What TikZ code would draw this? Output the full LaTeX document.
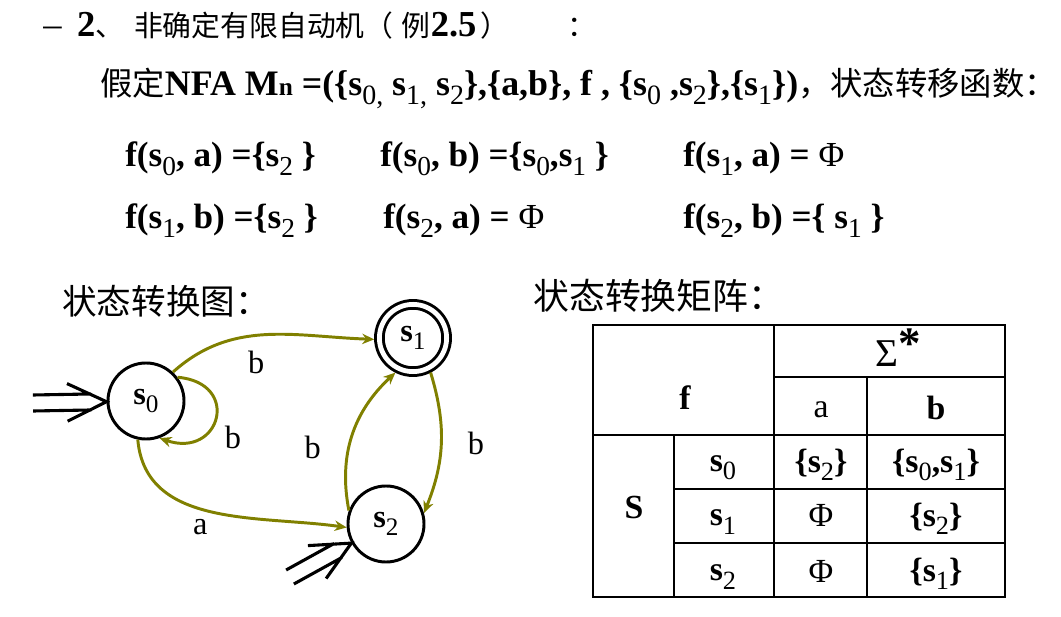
\documentclass[tikz,border=0pt]{standalone}
\usepackage{fontspec}
\setmainfont{Liberation Serif}
\newfontfamily\cjk{Noto Sans CJK SC}
\usepackage{xcolor}
\usepackage{graphicx}
\usepackage{tikz}
\usetikzlibrary{arrows.meta}
\usetikzlibrary{decorations.markings}
\definecolor{edgeolive}{RGB}{128,128,0}
\newcommand{\sub}[1]{\raisebox{-0.24em}{\scalebox{0.78}{\mdseries #1}}}
\tikzstyle{state}=[black, draw=black, line width=2.1pt, shape=circle, fill=white, minimum size=1.9cm, inner sep=0pt, font=\fontsize{23}{25}\selectfont\bfseries]
\tikzstyle{accstate}=[state, double, double distance=0.12cm, minimum size=1.68cm, outer sep=0.13cm]
\tikzstyle{trans}=[-{Stealth[length=0.3cm, width=0.26cm]}, line width=2.1pt, color=edgeolive]
\tikzstyle{lbl}=[black, inner sep=0pt, font=\fontsize{23}{25}\selectfont]
\tikzstyle{initarrow}=[decorate, decoration={markings, mark=at position 1 with {\draw[line width=2.2pt, line join=miter] (-\pgfdecoratedpathlength,0.2cm) -- (-0.38cm,0.2cm) (-\pgfdecoratedpathlength,-0.2cm) -- (-0.38cm,-0.2cm) (-0.98cm,0.47cm) -- (0,0) -- (-0.98cm,-0.47cm);}}]
\tikzstyle{title}=[anchor=base west, inner sep=0pt, font=\fontsize{25}{28}\selectfont]
\tikzstyle{formula}=[anchor=base west, inner sep=0pt, font=\fontsize{25}{28}\selectfont\bfseries]
\tikzstyle{cell}=[inner sep=0pt, font=\fontsize{24}{26}\selectfont\bfseries]
\tikzstyle{grid}=[line width=2.1pt, line cap=rect]

\begin{document}
\begin{tikzpicture}[x=0.025cm, y=-0.025cm]
\useasboundingbox (0,0) rectangle (1061,617);

\node [title, font=\fontsize{26}{28}\selectfont] (head) at (43,37) {--\hspace{0.42em}\textbf{2}{\fontsize{20.5}{24}\selectfont\cjk 、\hspace{7pt}非确定有限自动机（\hspace{6pt}例}\textbf{2.5}\hspace{3pt}{\fontsize{20.5}{24}\selectfont\cjk ）\hspace{2em}：}};
\node [title, font=\fontsize{25.5}{28}\selectfont\bfseries] (def) at (100,96) {{\fontsize{23}{26}\selectfont\mdseries\cjk 假定}NFA M{\fontsize{18}{20}\selectfont n} =(\{s\sub{0,} s\sub{1,} s\sub{2}\},\{a,b\}, f , \{s\sub{0} ,s\sub{2}\},\{s\sub{1}\}){\fontsize{23}{26}\selectfont\mdseries\cjk ，状态转移函数：}};

\node [formula] (f0a) at (125,167) {f(s\sub{0}, a) =\{s\sub{2} \}};
\node [formula] (f0b) at (380,167) {f(s\sub{0}, b) =\{s\sub{0},s\sub{1} \}};
\node [formula] (f1a) at (683,167) {f(s\sub{1}, a) = {\mdseries Φ}};
\node [formula] (f1b) at (125,229) {f(s\sub{1}, b) =\{s\sub{2} \}};
\node [formula] (f2a) at (383,229) {f(s\sub{2}, a) = {\mdseries Φ}};
\node [formula] (f2b) at (683,229) {f(s\sub{2}, b) =\{ s\sub{1} \}};

\node [title, font=\fontsize{24.6}{28}\selectfont] (graphtitle) at (62,315) {\cjk 状态转换图：};
\node [title, font=\fontsize{25.5}{28}\selectfont] (tabletitle) at (533,310) {\cjk 状态转换矩阵：};

\node [state] (s0) at (146,401) {s\sub{0}};
\node [accstate] (s1) at (413,338) {s\sub{1}};
\node [state] (s2) at (386,524) {s\sub{2}};
\coordinate (in0) at (33,403);
\coordinate (in2) at (290,577);

\path [initarrow] (in0) -- (s0);
\path [initarrow] (in2) -- (s2);

\draw [trans] (s0.47) to[out=42, in=178] node [lbl, pos=0.45, below=10pt] {b} (s1.182);
\draw [trans] (s0.37) to[out=-5, in=-19, looseness=2.6] node [lbl, pos=0.62, right=10pt, yshift=-6pt] {b} (s0.-70);
\draw [trans] (s0.-102) to[out=-85, in=172] node [lbl, pos=0.45, below=6pt] {a} (s2.185);
\draw [trans] (s2.160) to[out=101, in=-137] node [lbl, pos=0.45, left=20pt, yshift=-4pt] {b} (s1.-117);
\draw [trans] (s1.-63) to[out=-73, in=68] node [lbl, pos=0.5, right=18pt] {b} (s2.16);

\draw [grid] (593,325) rectangle (1005,597);
\draw [grid] (774,325) -- (774,597);
\draw [grid] (774,377) -- (1005,377);
\draw [grid] (593,435) -- (1005,435);
\draw [grid] (674,435) -- (674,597);
\draw [grid] (867,377) -- (867,597);
\draw [grid] (674,489) -- (1005,489);
\draw [grid] (674,543) -- (1005,543);

\node [cell, font=\fontsize{28}{30}\selectfont] (sigma) at (898,348) {Σ\raisebox{0.2em}{\fontsize{32}{32}\selectfont\bfseries *}};
\node [cell] (fhead) at (685,398) {f};
\node [cell, font=\fontsize{24}{26}\selectfont] (ahead) at (821,410) {a};
\node [cell] (bhead) at (936,408) {b};
\node [cell] (shead) at (634,507) {S};
\node [cell] (r0) at (723,468) {s\sub{0}};
\node [cell] (r1) at (723,522) {s\sub{1}};
\node [cell] (r2) at (723,577) {s\sub{2}};
\node [cell] (c0a) at (821,465) {\{s\sub{2}\}};
\node [cell] (c0b) at (936,465) {\{s\sub{0},s\sub{1}\}};
\node [cell, font=\fontsize{24}{26}\selectfont] (c1a) at (821,515) {Φ};
\node [cell] (c1b) at (936,519) {\{s\sub{2}\}};
\node [cell, font=\fontsize{24}{26}\selectfont] (c2a) at (821,571) {Φ};
\node [cell] (c2b) at (936,574) {\{s\sub{1}\}};
\end{tikzpicture}
\end{document}
